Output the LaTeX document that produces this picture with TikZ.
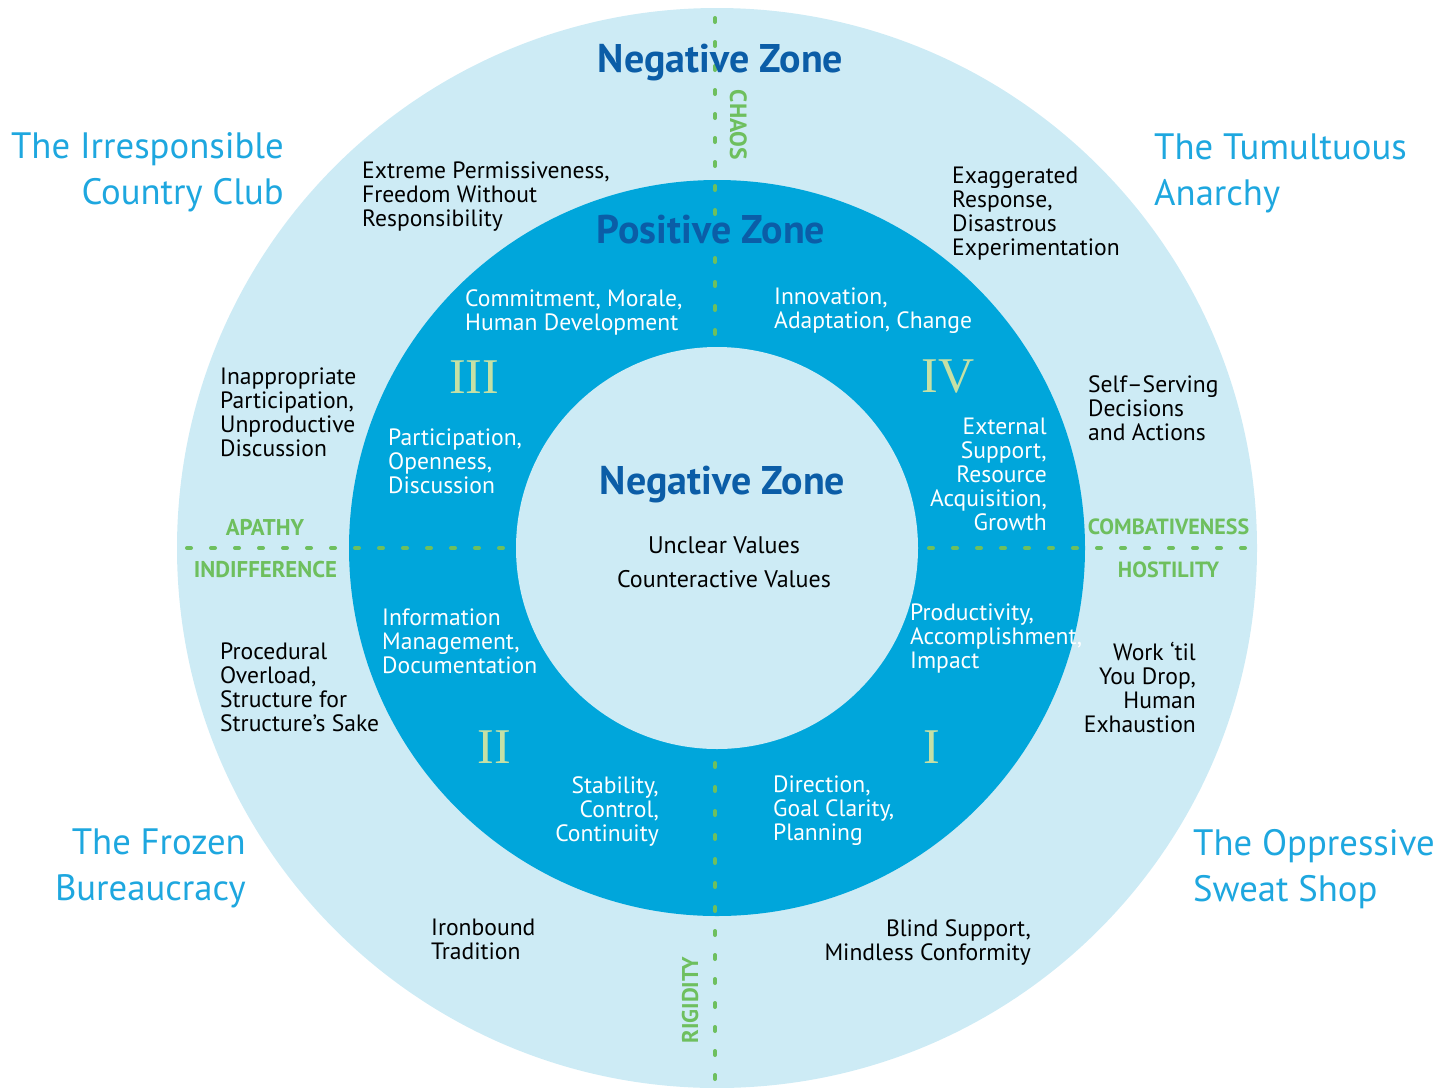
\documentclass[tikz,border=0pt]{standalone}
\usepackage{fontspec}
\setmainfont{PT Sans}
\newfontfamily\numfont{Liberation Serif}
\definecolor{ringlight}{HTML}{CDEBF5}
\definecolor{ringdark}{HTML}{00A6DB}
\definecolor{zoneblue}{HTML}{0B5DA7}
\definecolor{cornerblue}{HTML}{1EA7DF}
\definecolor{tensiongreen}{HTML}{6EBF5E}
\definecolor{numeralgreen}{HTML}{C5E0A5}
\begin{document}
\begin{tikzpicture}[x=1pt,y=-1pt,
  bodytext/.style={inner sep=0pt, font=\fontsize{23.6}{24}\selectfont, text=black},
  bodywhite/.style={bodytext, text=white},
  cornertitle/.style={inner sep=0pt, font=\fontsize{36.7}{46}\selectfont, text=cornerblue},
  zonetitle/.style={inner sep=0pt, anchor=base, font=\fontsize{40}{44}\selectfont\bfseries, text=zoneblue},
  tenslabel/.style={inner sep=0pt, anchor=base, font=\fontsize{22.8}{24}\selectfont\bfseries, text=tensiongreen},
  numlabel/.style={inner sep=0pt, font=\fontsize{50}{50}\numfont, text=numeralgreen},
  axisline/.style={draw=tensiongreen, line width=4pt, line cap=round, dash pattern=on 4pt off 20pt},
]
\useasboundingbox (0,0) rectangle (1456,1087);

% concentric zones
\coordinate (c) at (717,548);
\fill[ringlight] (c) circle[radius=540pt];
\fill[ringdark] (c) circle[radius=368pt];
\fill[ringlight] (c) circle[radius=201pt];

% dotted axes
\coordinate (nA) at (715,18);  \coordinate (nB) at (715,340);
\coordinate (sA) at (715,763); \coordinate (sB) at (715,1085);
\coordinate (wA) at (187,548); \coordinate (wB) at (509,548);
\coordinate (eA) at (929,548); \coordinate (eB) at (1251,548);
\draw[axisline] (nA) -- (nB);
\draw[axisline] (sA) -- (sB);
\draw[axisline] (wA) -- (wB);
\draw[axisline] (eA) -- (eB);

% zone titles
\node[zonetitle] (negtop) at (720.5,72) {Negative Zone};
\node[zonetitle] (pos) at (711,243) {Positive Zone};
\node[zonetitle] (negmid) at (722.5,494) {Negative Zone};
\node[bodytext, anchor=base, align=center, font=\fontsize{24}{34}\selectfont] (values) at (724,587) {Unclear Values\\Counteractive Values};

% tension labels
\node[tenslabel] (apathy) at (265,535) {APATHY};
\node[tenslabel] (indiff) at (265.5,577) {INDIFFERENCE};
\node[tenslabel, font=\fontsize{22}{24}\selectfont\bfseries] (combat) at (1168.5,534) {COMBATIVENESS};
\node[tenslabel, font=\fontsize{22}{24}\selectfont\bfseries] (hostil) at (1168.5,577) {HOSTILITY};
\node[tenslabel, rotate=-90, font=\fontsize{23.5}{24}\selectfont\bfseries] (chaos) at (730,125) {CHAOS};
\node[tenslabel, rotate=90] (rigid) at (698,1000) {RIGIDITY};

% quadrant numerals
\node[numlabel] (q3) at (474,377) {III};
\node[numlabel] (q4) at (948,377) {IV};
\node[numlabel] (q2) at (494,747) {II};
\node[numlabel] (q1) at (932,747) {I};

% corner titles
\node[cornertitle, anchor=north east, align=right] (club) at (284,132) {The Irresponsible\\Country Club};
\node[cornertitle, anchor=north west, align=left] (anarchy) at (1154,134) {The Tumultuous\\Anarchy};
\node[cornertitle, anchor=north east, align=right] (frozen) at (246,829) {The Frozen\\Bureaucracy};
\node[cornertitle, anchor=north west, align=left] (sweat) at (1193,829) {The Oppressive\\Sweat Shop};

% outer ring texts
\node[bodytext, anchor=north west, align=left] (t1) at (362,162) {Extreme Permissiveness,\\Freedom Without\\Responsibility};
\node[bodytext, anchor=north west, align=left] (t2) at (952,167) {Exaggerated\\Response,\\Disastrous\\Experimentation};
\node[bodytext, anchor=north west, align=left] (t3) at (220,368) {Inappropriate\\Participation,\\Unproductive\\Discussion};
\node[bodytext, anchor=north west, align=left] (t4) at (1088,375) {Self–Serving\\Decisions\\and Actions};
\node[bodytext, anchor=north west, align=left] (t5) at (220,643) {Procedural\\Overload,\\Structure for\\Structure’s Sake};
\node[bodytext, anchor=north east, align=right] (t6) at (1196,642) {Work ‘til\\You Drop,\\Human\\Exhaustion};
\node[bodytext, anchor=north west, align=left] (t7) at (431,919) {Ironbound\\Tradition};
\node[bodytext, anchor=north east, align=right] (t8) at (1031,919) {Blind Support,\\Mindless Conformity};

% middle ring texts
\node[bodywhite, anchor=north west, align=left] (m1) at (465,289) {Commitment, Morale,\\Human Development};
\node[bodywhite, anchor=north west, align=left] (m2) at (774,288) {Innovation,\\Adaptation, Change};
\node[bodywhite, anchor=north west, align=left] (m3) at (388,429) {Participation,\\Openness,\\Discussion};
\node[bodywhite, anchor=north east, align=right] (m4) at (1047,418) {External\\Support,\\Resource\\Acquisition,\\Growth};
\node[bodywhite, anchor=north west, align=left] (m5) at (382,609) {Information\\Management,\\Documentation};
\node[bodywhite, anchor=north west, align=left] (m6) at (910,604) {Productivity,\\Accomplishment,\\Impact};
\node[bodywhite, anchor=north east, align=right] (m7) at (659,776) {Stability,\\Control,\\Continuity};
\node[bodywhite, anchor=north west, align=left] (m8) at (773,776) {Direction,\\Goal Clarity,\\Planning};
\end{tikzpicture}
\end{document}
